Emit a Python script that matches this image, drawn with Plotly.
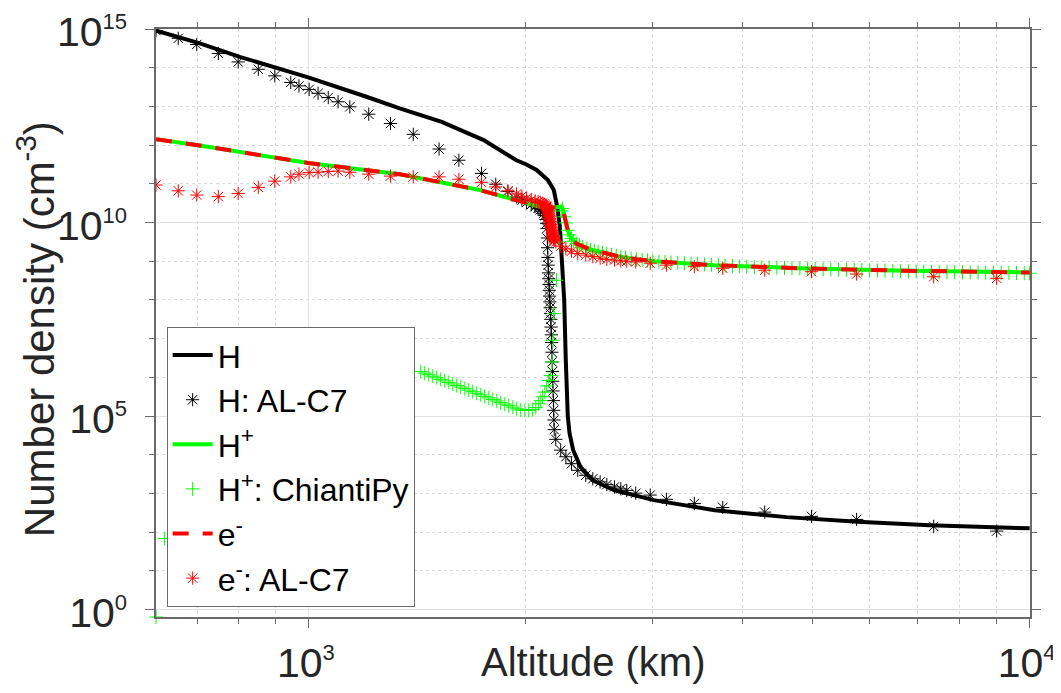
import plotly.graph_objects as go

# ---------------- data (altitude in km, densities as log10 exponents) ----------------
H_alt = [613.8, 706, 802, 998, 1202, 1337, 1529, 1748, 1941, 2004, 2070, 2146, 2187, 2211, 2230,
         2243, 2261, 2272, 2287, 2300, 2327, 2381, 2477, 2655, 3010, 3657, 4599, 5773, 7266, 10000]
H_log = [14.96, 14.63, 14.28, 13.75, 13.25, 12.95, 12.60, 12.13, 11.61, 11.50, 11.36, 11.10, 10.84, 10.41, 9.89,
         9.03, 8.0, 6.5, 5.0, 4.55, 4.12, 3.69, 3.34, 3.085, 2.83, 2.57, 2.39, 2.27, 2.18, 2.10]

Hp_alt = [613.8, 706, 998, 1337, 1727, 1840, 1921, 2092, 2137, 2190, 2243, 2253, 2275, 2287, 2314,
          2350, 2452, 2587, 2701, 2849, 3010, 3657, 4795, 6500, 10000]
Hp_log = [12.15, 11.99, 11.54, 11.25, 10.84, 10.71, 10.60, 10.41, 10.37, 10.39, 10.41, 10.32, 9.99, 9.80, 9.59,
          9.46, 9.31, 9.20, 9.12, 9.05, 9.00, 8.90, 8.82, 8.76, 8.71]

e_alt = [613.8, 706, 998, 1337, 1727, 1840, 1921, 2092, 2137, 2190, 2243, 2253, 2275, 2287, 2314,
         2350, 2452, 2587, 2701, 2849, 3010, 3657, 4795, 6500, 10000]
e_log = [12.15, 11.99, 11.54, 11.25, 10.84, 10.71, 10.60, 10.41, 10.37, 10.39, 10.41, 10.32, 9.99, 9.80, 9.59,
         9.46, 9.31, 9.20, 9.12, 9.05, 9.00, 8.90, 8.82, 8.76, 8.71]

# AL-C7 model grid (shared by H and e-)
alc7_alt = [613.8, 659, 699, 749, 798, 851, 897, 944, 969, 1001, 1030, 1064, 1098, 1140, 1211, 1298,
            1396, 1516, 1615, 1736, 1817, 1889, 1942, 1975, 2005, 2035, 2060, 2080, 2095, 2108, 2118,
            2126, 2133, 2138, 2140, 2142, 2144, 2146, 2148, 2150, 2152, 2154, 2156, 2158, 2160, 2162,
            2164, 2166, 2168, 2170, 2172, 2174, 2176, 2178, 2180, 2182, 2184, 2186, 2188, 2190, 2201,
            2236, 2273, 2314, 2361, 2422, 2477, 2536, 2591, 2655, 2709, 2761, 2841, 2976, 3134, 3426,
            3752, 4290, 4982, 5754, 7360, 9000]
H_alc7_log = [14.96, 14.76, 14.60, 14.37, 14.15, 13.96, 13.79, 13.62, 13.53, 13.44, 13.34, 13.23, 13.12,
              12.99, 12.80, 12.56, 12.28, 11.90, 11.61, 11.27, 10.99, 10.80, 10.66, 10.58, 10.52, 10.46,
              10.41, 10.37, 10.33, 10.29, 10.24, 10.18, 10.08, 9.98, 9.85, 9.60, 9.35, 9.10, 8.90, 8.70,
              8.55, 8.40, 8.25, 8.10, 7.95, 7.80, 7.65, 7.50, 7.30, 7.10, 6.90, 6.65, 6.40, 6.15, 5.90,
              5.65, 5.40, 5.15, 4.90, 4.65, 4.40, 4.12, 3.95, 3.77, 3.60, 3.47, 3.38, 3.30, 3.23, 3.17,
              3.12, 3.08, 3.01, 2.96, 2.85, 2.74, 2.64, 2.52, 2.41, 2.33, 2.15, 2.03]
e_alc7_log = [10.97, 10.82, 10.71, 10.67, 10.75, 10.91, 11.07, 11.18, 11.25, 11.29, 11.30, 11.32, 11.33,
              11.30, 11.25, 11.20, 11.18, 11.18, 11.12, 11.04, 10.92, 10.82, 10.74, 10.68, 10.63, 10.59,
              10.56, 10.54, 10.52, 10.50, 10.48, 10.46, 10.44, 10.42, 10.40, 10.37, 10.34, 10.31, 10.28,
              10.25, 10.22, 10.19, 10.15, 10.11, 10.07, 10.03, 9.99, 9.95, 9.91, 9.87, 9.83, 9.79, 9.75,
              9.71, 9.67, 9.64, 9.61, 9.58, 9.56, 9.54, 9.50, 9.39, 9.32, 9.26, 9.20, 9.16, 9.12, 9.08,
              9.05, 9.03, 9.01, 9.00, 8.98, 8.95, 8.90, 8.86, 8.82, 8.77, 8.73, 8.67, 8.60, 8.56]

# ChiantiPy H+ points
chianti_alt = [613.8, 631, 1430, 1448, 1467, 1486, 1505, 1524, 1544, 1564, 1584, 1604, 1625, 1646, 1667,
               1688, 1710, 1732, 1754, 1777, 1800, 1823, 1846, 1870, 1894, 1919, 1943, 1968, 1994, 2019,
               2045, 2065, 2084, 2098, 2111, 2125, 2138, 2152, 2166, 2176, 2182, 2187, 2206, 2226, 2240,
               2250, 2262, 2275, 2287, 2300, 2314, 2330, 2350, 2375, 2400, 2430, 2460, 2490, 2520, 2555,
               2590, 2630, 2670, 2710, 2750, 2800, 2850, 2900, 2950, 3000, 3060, 3120, 3180, 3250, 3320,
               3390, 3460, 3540, 3620, 3700, 3780, 3870, 3960, 4050, 4150, 4250, 4350, 4460, 4570, 4680,
               4800, 4920, 5040, 5170, 5300, 5430, 5570, 5710, 5850, 6000, 6150, 6300, 6460, 6620, 6790,
               6960, 7130, 7310, 7490, 7680, 7870, 8070, 8270, 8480, 8690, 8910, 9130, 9360, 9590, 9830, 10000]
chianti_log = [-0.19, 1.84, 6.15, 6.11, 6.07, 6.03, 5.99, 5.95, 5.91, 5.87, 5.83, 5.79, 5.75, 5.71, 5.67,
               5.63, 5.59, 5.55, 5.51, 5.47, 5.43, 5.39, 5.35, 5.31, 5.27, 5.23, 5.19, 5.16, 5.15, 5.15,
               5.17, 5.22, 5.32, 5.40, 5.50, 5.62, 5.78, 5.92, 6.05, 6.40, 6.96, 7.65, 8.51, 9.50, 10.30,
               10.36, 10.15, 9.99, 9.80, 9.68, 9.59, 9.52, 9.46, 9.41, 9.37, 9.33, 9.30, 9.27, 9.245, 9.22,
               9.20, 9.17, 9.145, 9.12, 9.10, 9.07, 9.05, 9.035, 9.02, 9.00, 8.99, 8.98, 8.97, 8.96, 8.95,
               8.94, 8.93, 8.92, 8.91, 8.90, 8.89, 8.88, 8.87, 8.86, 8.85, 8.845, 8.84, 8.835, 8.83, 8.82,
               8.815, 8.81, 8.80, 8.795, 8.79, 8.785, 8.78, 8.775, 8.77, 8.765, 8.76, 8.755, 8.75, 8.745, 8.74,
               8.735, 8.73, 8.725, 8.72, 8.718, 8.715, 8.712, 8.71, 8.708, 8.705, 8.703, 8.70, 8.698, 8.695, 8.693, 8.69]

SUP = "<sup><span style='font-size:22px'>{}</span></sup>"
x_tickvals = [1e3, 1e4]
x_ticktext = ["10" + SUP.format("3"), "10" + SUP.format("4")]
y_tickvals = [1e0, 1e5, 1e10, 1e15]
y_ticktext = ["10" + SUP.format(k) for k in ("0", "5", "10", "15")]
x_minor = [700, 800, 900, 2000, 3000, 4000, 5000, 6000, 7000, 8000, 9000]
y_minor = [10.0 ** k for k in range(0, 16) if k % 5 != 0]


def pw(v):
    return [10.0 ** t for t in v]


FONT = "Liberation Sans, Arial, Helvetica, sans-serif"
fig = go.Figure()

fig.add_trace(go.Scatter(x=H_alt, y=pw(H_log), mode="lines", name="H", legendgroup="a",
                         line=dict(color="black", width=4)))
fig.add_trace(go.Scatter(x=alc7_alt, y=pw(H_alc7_log), mode="markers", name="H: AL-C7", legendgroup="b",
                         marker=dict(symbol="asterisk-open", size=11, color="black",
                                     line=dict(color="black", width=1))))
fig.add_trace(go.Scatter(x=Hp_alt, y=pw(Hp_log), mode="lines", name="H<sup>+</sup>", legendgroup="c",
                         line=dict(color="#00ff00", width=4)))
fig.add_trace(go.Scatter(x=chianti_alt, y=pw(chianti_log), mode="markers", name="H<sup>+</sup>: ChiantiPy",
                         legendgroup="d", cliponaxis=False,
                         marker=dict(symbol="cross-thin-open", size=10, color="#00ff00",
                                     line=dict(color="#33ee33", width=1))))
fig.add_trace(go.Scatter(x=e_alt, y=pw(e_log), mode="lines", name="e<sup>-</sup>", legendgroup="e",
                         line=dict(color="#ff0000", width=4, dash="16px,14px")))
fig.add_trace(go.Scatter(x=alc7_alt, y=pw(e_alc7_log), mode="markers", name="e<sup>-</sup>: AL-C7",
                         legendgroup="f",
                         marker=dict(symbol="asterisk-open", size=11, color="#ff0000",
                                     line=dict(color="#ff2222", width=1))))

axis_common = dict(
    type="log", showline=True, linecolor="#6a6a6a", linewidth=1.5, mirror="allticks",
    ticks="outside", ticklen=9, tickwidth=1.2, tickcolor="#6a6a6a", automargin=False,
    ticklabeloverflow="allow",
    showgrid=True, gridcolor="#e3e3e3", gridwidth=1, zeroline=False,
    tickfont=dict(family=FONT, size=41, color="#262626"),
)

fig.update_xaxes(**axis_common, range=[2.788, 4.0005], tickvals=x_tickvals, ticktext=x_ticktext,
                 ticklabelstandoff=0, ticklabelshift=-3,
                 minor=dict(tickvals=x_minor, ticks="outside", ticklen=5, tickcolor="#6a6a6a",
                            showgrid=True, gridcolor="#dadada", griddash="dot", gridwidth=1))
fig.update_yaxes(**axis_common, range=[-0.19, 15.0005], tickvals=y_tickvals, ticktext=y_ticktext,
                 ticklabelstandoff=10, ticklabelshift=3,
                 minor=dict(tickvals=y_minor, ticks="outside", ticklen=5, tickcolor="#6a6a6a",
                            showgrid=True, gridcolor="#dadada", griddash="dot", gridwidth=1))

fig.add_annotation(text="Altitude (km)", xref="paper", yref="paper", x=0.5, y=-0.077,
                   xanchor="center", yanchor="middle", showarrow=False,
                   font=dict(family=FONT, size=40, color="#262626"))
fig.add_annotation(text="Number density (cm<sup>-3</sup>)", xref="paper", yref="paper",
                   x=-0.137, y=0.49, xanchor="center", yanchor="middle", textangle=-90,
                   showarrow=False, font=dict(family=FONT, size=42, color="#262626"))

# the page body adds an 8 px offset; size the figure so the plot area lands on the reference
fig.update_layout(
    width=1053, height=685,
    margin=dict(l=148, r=31, t=21, b=76, autoexpand=False),
    paper_bgcolor="white", plot_bgcolor="white",
    showlegend=True,
    legend=dict(x=0.0122, y=0.4935, xanchor="left", yanchor="top",
                bgcolor="white", bordercolor="#6a6a6a", borderwidth=1,
                font=dict(family=FONT, size=32, color="black"),
                tracegroupgap=0, itemwidth=40),
)

fig.write_html("out.html")
